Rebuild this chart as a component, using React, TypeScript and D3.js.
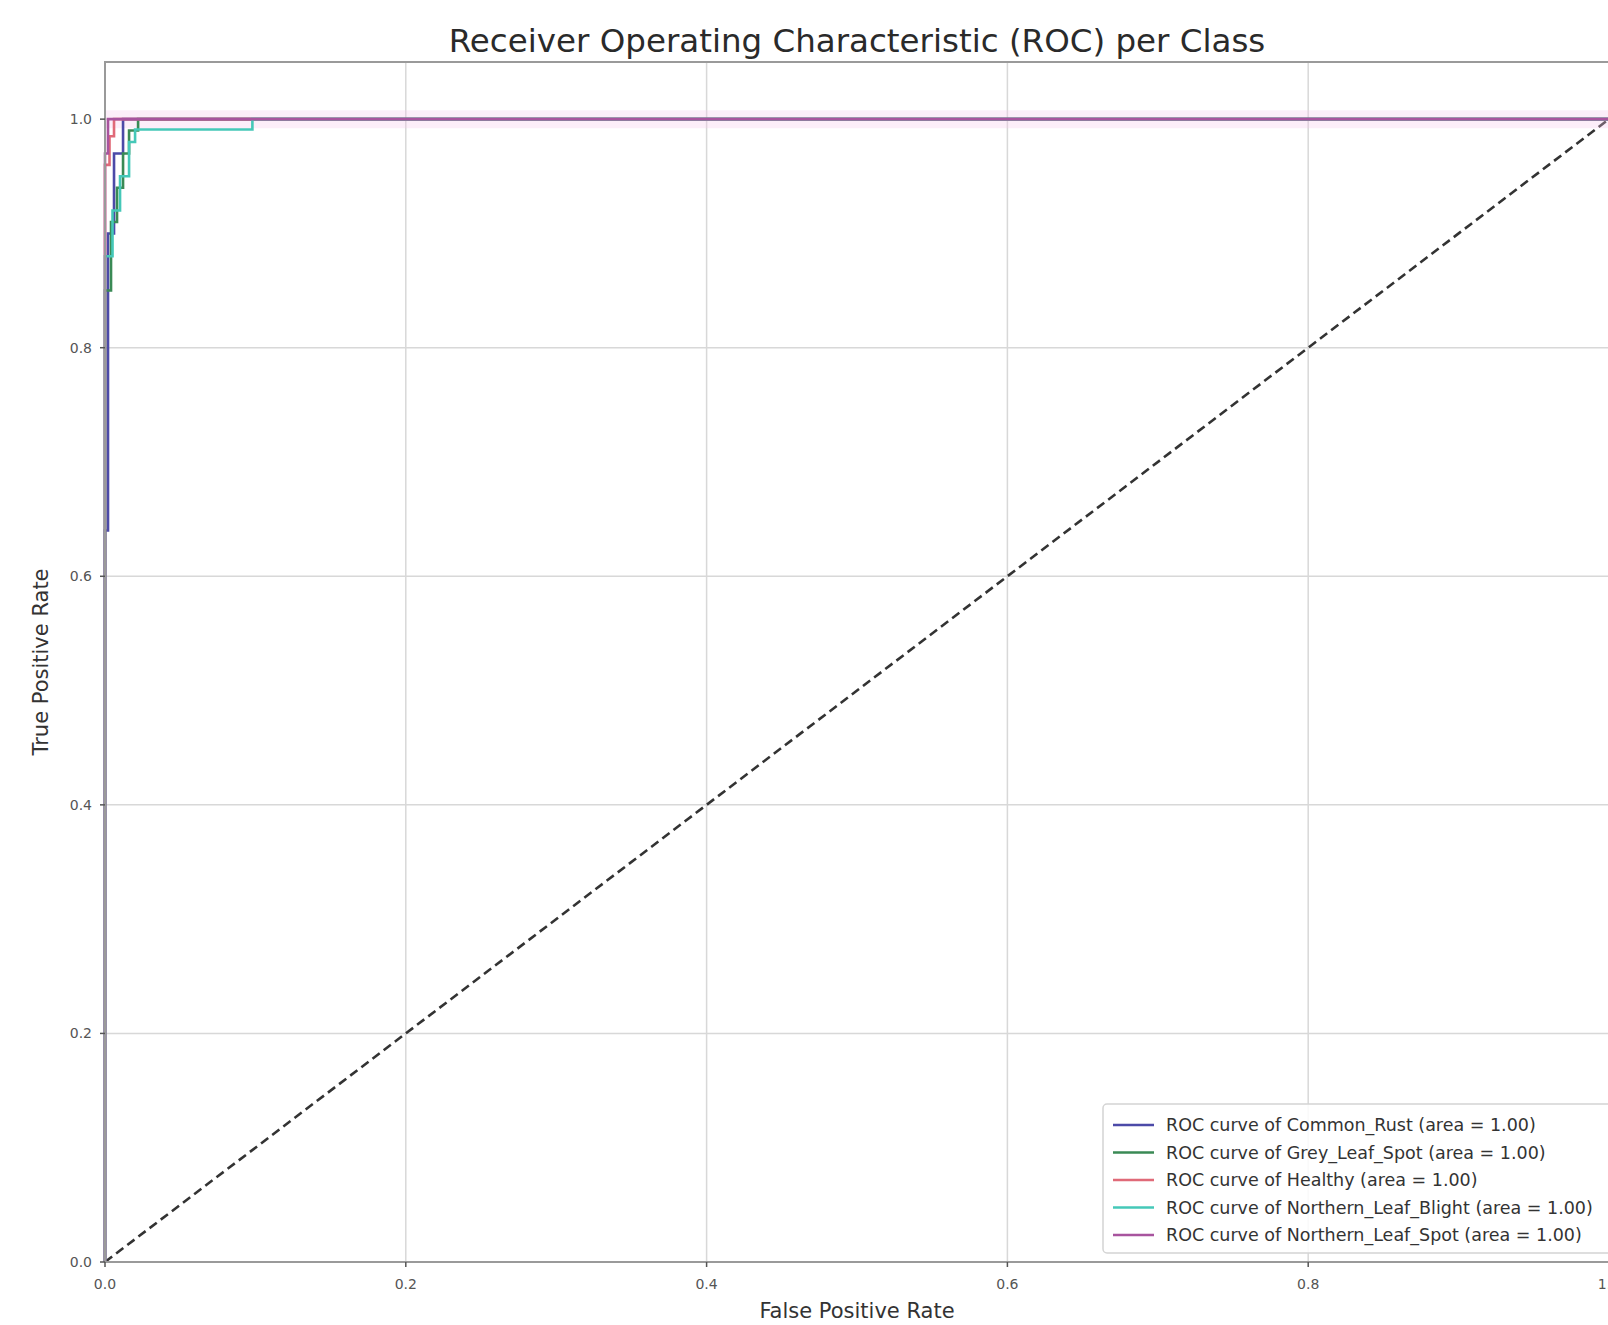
import React from 'react';
import * as d3 from 'd3';

const W = 1608;
const H = 1325;

const classNames = ['Common_Rust', 'Grey_Leaf_Spot', 'Healthy', 'Northern_Leaf_Blight', 'Northern_Leaf_Spot'];
const areaLabels = ['1.00', '1.00', '1.00', '1.00', '1.00'];
const classColors = ['#4c4aa8', '#3a8a55', '#e06a78', '#45c8b8', '#a8549e'];

const commonRustFpr = [0, 0, 0.002, 0.002, 0.006, 0.006, 0.012, 0.012, 1.0];
const commonRustTpr = [0, 0.64, 0.64, 0.9, 0.9, 0.97, 0.97, 1.0, 1.0];

const greyLeafFpr = [0, 0, 0.004, 0.004, 0.008, 0.008, 0.012, 0.012, 0.016, 0.016, 0.022, 0.022, 1.0];
const greyLeafTpr = [0, 0.85, 0.85, 0.91, 0.91, 0.94, 0.94, 0.97, 0.97, 0.99, 0.99, 1.0, 1.0];

const healthyFpr = [0, 0, 0.003, 0.003, 0.006, 0.006, 1.0];
const healthyTpr = [0, 0.96, 0.96, 0.985, 0.985, 1.0, 1.0];

const blightFpr = [0, 0, 0.005, 0.005, 0.01, 0.01, 0.016, 0.016, 0.02, 0.02, 0.098, 0.098, 1.0];
const blightTpr = [0, 0.88, 0.88, 0.92, 0.92, 0.95, 0.95, 0.98, 0.98, 0.991, 0.991, 1.0, 1.0];

const spotFpr = [0, 0, 0.002, 0.002, 1.0];
const spotTpr = [0, 0.97, 0.97, 1.0, 1.0];

const seriesFpr = [commonRustFpr, greyLeafFpr, healthyFpr, blightFpr, spotFpr];
const seriesTpr = [commonRustTpr, greyLeafTpr, healthyTpr, blightTpr, spotTpr];

const xTicks = [0, 0.2, 0.4, 0.6, 0.8, 1.0];
const yTicks = [0, 0.2, 0.4, 0.6, 0.8, 1.0];

const titleText = 'Receiver Operating Characteristic (ROC) per Class';
const xLabelText = 'False Positive Rate';
const yLabelText = 'True Positive Rate';

const FONT = 'DejaVu Sans, sans-serif';

export default function App() {
  const left = 105;
  const right = 1609;
  const top = 62;
  const bottom = 1262;

  const x = d3.scaleLinear().domain([0, 1]).range([left, right]);
  const y = d3.scaleLinear().domain([0, 1.05]).range([bottom, top]);

  const line = d3
    .line<[number, number]>()
    .x((d) => x(d[0]))
    .y((d) => y(d[1]));

  const legendX = 1103;
  const legendY = 1104;
  const legendRow = 27.5;

  return (
    <svg
      width={W}
      height={H}
      viewBox={`0 0 ${W} ${H}`}
      style={{ position: 'absolute', left: 0, top: 0, display: 'block', background: '#fff' }}
      fontFamily={FONT}
    >
      <rect x={0} y={0} width={W} height={H} fill="#fff" />
      <defs>
        <clipPath id="plotClip">
          <rect x={left - 3} y={top} width={right - left + 6} height={bottom - top + 3} />
        </clipPath>
      </defs>

      {/* grid */}
      {xTicks.map((t) => (
        <line key={'gx' + t} x1={x(t)} x2={x(t)} y1={top} y2={bottom} stroke="#d8d8d8" strokeWidth={1.5} />
      ))}
      {yTicks.map((t) => (
        <line key={'gy' + t} x1={left} x2={right} y1={y(t)} y2={y(t)} stroke="#d8d8d8" strokeWidth={1.5} />
      ))}

      {/* diagonal */}
      <path
        d={line([
          [0, 0],
          [1, 1],
        ]) || ''}
        fill="none"
        stroke="#333"
        strokeWidth={2.6}
        strokeDasharray="9,5"
        clipPath="url(#plotClip)"
      />

      {/* soft halo around top line */}
      <path
        d={line([
          [0, 1],
          [1, 1],
        ]) || ''}
        fill="none"
        stroke="#f5c8ec"
        strokeOpacity={0.3}
        strokeWidth={18}
      />

      {/* curves */}
      <g clipPath="url(#plotClip)">
        {classNames.map((name, i) => {
          const pts: [number, number][] = seriesFpr[i].map((f, j) => [f, seriesTpr[i][j]]);
          return (
            <path
              key={name}
              d={line(pts) || ''}
              fill="none"
              stroke={classColors[i]}
              strokeWidth={2.6}
              strokeLinejoin="miter"
            />
          );
        })}
      </g>

      {/* spines */}
      <rect x={left} y={top} width={right - left} height={bottom - top} fill="none" stroke="#9a9a9a" strokeWidth={2} />

      {/* x ticks */}
      {xTicks.map((t) => (
        <g key={'xt' + t}>
          <line x1={x(t)} x2={x(t)} y1={bottom} y2={bottom + 5} stroke="#555" strokeWidth={1.5} />
          <text x={x(t)} y={bottom + 27} textAnchor="middle" fontSize={14} fill="#555">
            {t.toFixed(1)}
          </text>
        </g>
      ))}

      {/* y ticks */}
      {yTicks.map((t) => (
        <g key={'yt' + t}>
          <line x1={left - 5} x2={left} y1={y(t)} y2={y(t)} stroke="#555" strokeWidth={1.5} />
          <text x={left - 13} y={y(t) + 5} textAnchor="end" fontSize={14} fill="#555">
            {t.toFixed(1)}
          </text>
        </g>
      ))}

      {/* title */}
      <text x={(left + right) / 2} y={52} textAnchor="middle" fontSize={32.5} fill="#2a2a2a">
        {titleText}
      </text>

      {/* axis labels */}
      <text x={(left + right) / 2} y={1318} textAnchor="middle" fontSize={21} fill="#333">
        {xLabelText}
      </text>
      <text
        transform={`translate(48, ${(top + bottom) / 2 + 0}) rotate(-90)`}
        textAnchor="middle"
        fontSize={21}
        fill="#333"
      >
        {yLabelText}
      </text>

      {/* legend */}
      <rect
        x={legendX}
        y={legendY}
        width={520}
        height={149}
        rx={4}
        fill="#fff"
        fillOpacity={0.85}
        stroke="#d4d4d4"
        strokeWidth={1.5}
      />
      {classNames.map((name, i) => {
        const cy = legendY + 21 + i * legendRow;
        return (
          <g key={'lg' + name}>
            <line x1={legendX + 10} x2={legendX + 51} y1={cy} y2={cy} stroke={classColors[i]} strokeWidth={2.6} />
            <text x={legendX + 63} y={cy + 6} fontSize={17.5} fill="#333">
              {`ROC curve of ${name} (area = ${areaLabels[i]})`}
            </text>
          </g>
        );
      })}
    </svg>
  );
}
